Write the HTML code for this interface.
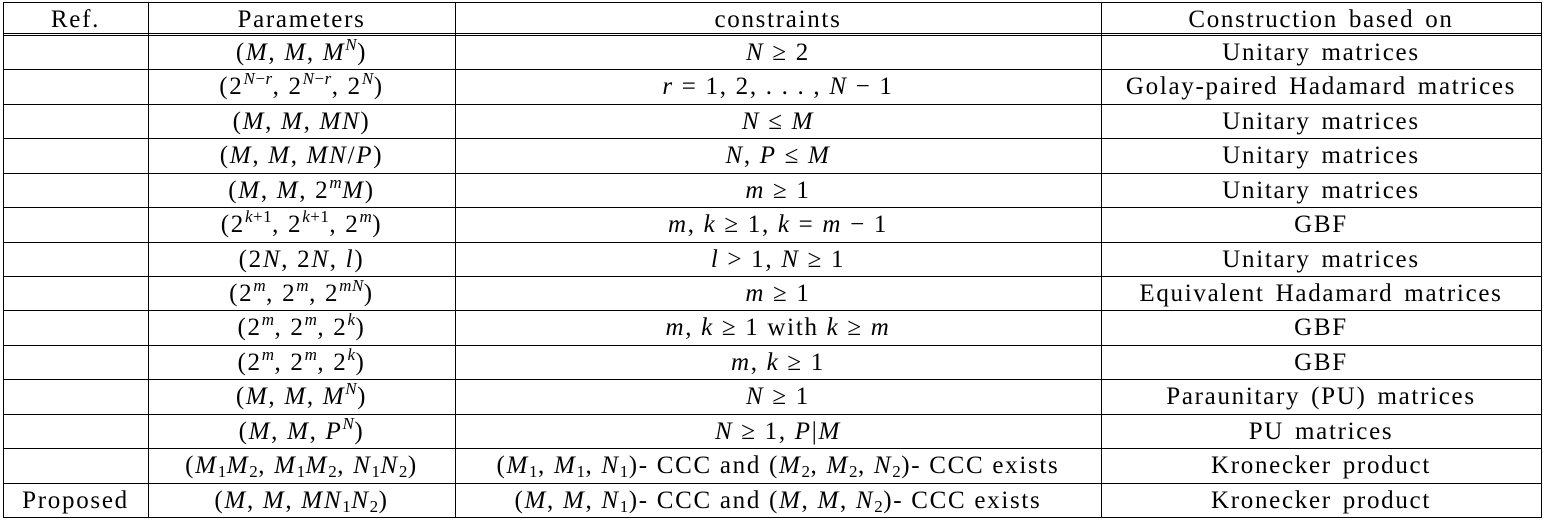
<!DOCTYPE html>
<html><head><meta charset="utf-8"><style>
html,body{margin:0;padding:0;background:#fff;}
#t{position:relative;width:1545px;height:520px;font-family:"Liberation Serif",serif;font-size:25px;letter-spacing:1.7px;word-spacing:3px;color:#000;}
.h{position:absolute;height:1px;background:#000;left:3px;width:1539px;}
.v{position:absolute;width:1px;background:#000;top:2px;height:516px;}
.c{position:absolute;text-align:center;white-space:nowrap;line-height:34px;height:34px;}
i{font-style:italic;}
.m{word-spacing:0;}
sup{font-size:17px;vertical-align:10px;line-height:0;letter-spacing:0.5px;}
sub{font-size:17px;vertical-align:-4px;line-height:0;letter-spacing:0.5px;}
</style></head><body>
<div id="t">
<div class="h" style="top:2px"></div>
<div class="h" style="top:33px"></div>
<div class="h" style="top:35px"></div>
<div class="h" style="top:517px"></div>
<div class="v" style="left:3px"></div>
<div class="v" style="left:148px"></div>
<div class="v" style="left:455px"></div>
<div class="v" style="left:1101px"></div>
<div class="v" style="left:1541px"></div>
</div>
<script>
const cols=[[3,148],[148,455],[455,1101],[1101,1541]];
const header=["Ref.","Parameters","constraints","Construction based on"];
const rows=[
["","(<i>M</i>, <i>M</i>, <i>M</i><sup><i>N</i></sup>)","<i>N</i> ≥ 2","Unitary matrices"],
["","(2<sup><i>N</i>−<i>r</i></sup>, 2<sup><i>N</i>−<i>r</i></sup>, 2<sup><i>N</i></sup>)","<i>r</i> = 1, 2, . . . , <i>N</i> − 1","Golay-paired Hadamard matrices"],
["","(<i>M</i>, <i>M</i>, <i>MN</i>)","<i>N</i> ≤ <i>M</i>","Unitary matrices"],
["","(<i>M</i>, <i>M</i>, <i>MN</i>/<i>P</i>)","<i>N</i>, <i>P</i> ≤ <i>M</i>","Unitary matrices"],
["","(<i>M</i>, <i>M</i>, 2<sup><i>m</i></sup><i>M</i>)","<i>m</i> ≥ 1","Unitary matrices"],
["","(2<sup><i>k</i>+1</sup>, 2<sup><i>k</i>+1</sup>, 2<sup><i>m</i></sup>)","<i>m</i>, <i>k</i> ≥ 1,  <i>k</i> = <i>m</i> − 1","GBF"],
["","(2<i>N</i>, 2<i>N</i>, <i>l</i>)","<i>l</i> &gt; 1,  <i>N</i> ≥ 1","Unitary matrices"],
["","(2<sup><i>m</i></sup>, 2<sup><i>m</i></sup>, 2<sup><i>mN</i></sup>)","<i>m</i> ≥ 1","Equivalent Hadamard matrices"],
["","(2<sup><i>m</i></sup>, 2<sup><i>m</i></sup>, 2<sup><i>k</i></sup>)","<i>m</i>, <i>k</i> ≥ 1 with <i>k</i> ≥ <i>m</i>","GBF"],
["","(2<sup><i>m</i></sup>, 2<sup><i>m</i></sup>, 2<sup><i>k</i></sup>)","<i>m</i>, <i>k</i> ≥ 1","GBF"],
["","(<i>M</i>, <i>M</i>, <i>M</i><sup><i>N</i></sup>)","<i>N</i> ≥ 1","Paraunitary (PU) matrices"],
["","(<i>M</i>, <i>M</i>, <i>P</i><sup><i>N</i></sup>)","<i>N</i> ≥ 1,  <i>P</i>|<i>M</i>","PU matrices"],
["","(<i>M</i><sub>1</sub><i>M</i><sub>2</sub>, <i>M</i><sub>1</sub><i>M</i><sub>2</sub>, <i>N</i><sub>1</sub><i>N</i><sub>2</sub>)","(<i>M</i><sub>1</sub>, <i>M</i><sub>1</sub>, <i>N</i><sub>1</sub>)- CCC and (<i>M</i><sub>2</sub>, <i>M</i><sub>2</sub>, <i>N</i><sub>2</sub>)- CCC exists","Kronecker product"],
["Proposed","(<i>M</i>, <i>M</i>, <i>MN</i><sub>1</sub><i>N</i><sub>2</sub>)","(<i>M</i>, <i>M</i>, <i>N</i><sub>1</sub>)- CCC and (<i>M</i>, <i>M</i>, <i>N</i><sub>2</sub>)- CCC exists","Kronecker product"]
];
const root=document.getElementById('t');
const names=['ref','parameters','constraints','construction'];
function cell(txt,ci,top,kind){
  const d=document.createElement('div');
  d.className='c'+(ci==1||ci==2?' m':'');
  d.style.left=cols[ci][0]+'px';d.style.width=(cols[ci][1]-cols[ci][0])+'px';
  d.style.top=top+'px';
  d.innerHTML=txt;
  
  
  root.appendChild(d);
}
header.forEach((h,ci)=>cell(h,ci,3,'header'));
const rh=482/14;
rows.forEach((r,ri)=>{
  const top=35+ri*rh;
  if(ri>0){
    const l=document.createElement('div');
    l.className='h';l.style.top=Math.round(top)+'px';
    
    
    root.appendChild(l);
  }
  r.forEach((t,ci)=>cell(t,ci,top+1,'row'+(ri+1)));
});
</script>
</body></html>
